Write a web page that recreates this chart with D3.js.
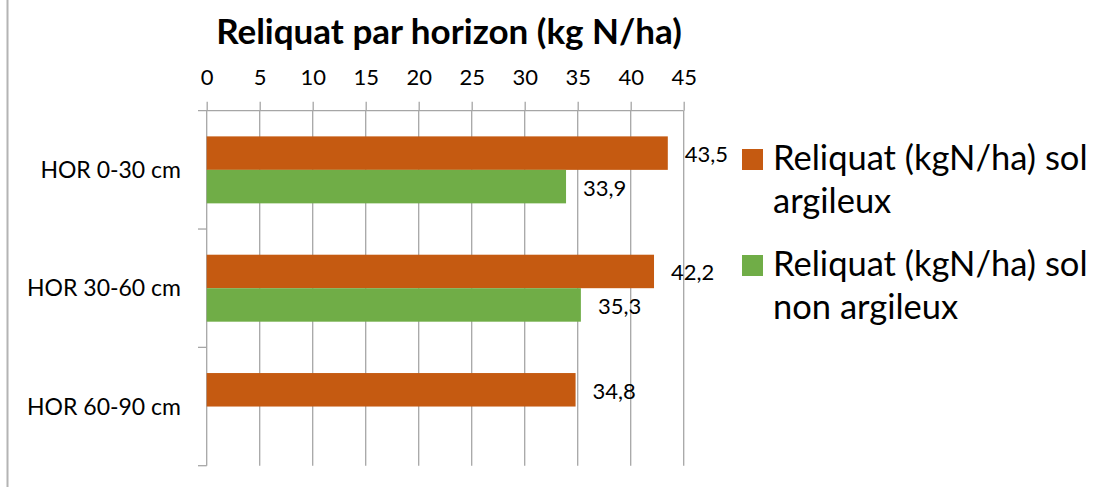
<!DOCTYPE html>
<html>
<head>
<meta charset="utf-8">
<script src="https://cdn.jsdelivr.net/npm/d3@7"></script>
<style>
  html, body { margin: 0; padding: 0; background: #fff; }
  svg { display: block; }
  text { font-family: Lato, "Open Sans", sans-serif; fill: #000; }
</style>
</head>
<body>
<svg id="chart" width="1105" height="487"></svg>
<script>
// ---- data ----
const categories = ["HOR 0-30 cm", "HOR 30-60 cm", "HOR 60-90 cm"];
const seriesNames = ["Reliquat (kgN/ha) sol argileux", "Reliquat (kgN/ha) sol non argileux"];
const legendLines = [["Reliquat (kgN/ha) sol", "argileux"], ["Reliquat (kgN/ha) sol", "non argileux"]];
const argileux = [43.5, 42.2, 34.8];
const nonArgileux = [33.9, 35.3, null];
const tickValues = [0, 5, 10, 15, 20, 25, 30, 35, 40, 45];
const chartTitle = "Reliquat par horizon (kg N/ha)";
const colors = ["#C55A11", "#70AD47"];

const seriesValues = [argileux, nonArgileux];
const fmt = v => String(v).replace(".", ",");

const svg = d3.select("#chart");

// frame line on the left
svg.append("line")
  .attr("x1", 7.5).attr("x2", 7.5).attr("y1", 0).attr("y2", 487)
  .attr("stroke", "#b4b4b4").attr("stroke-width", 2);

const plotTop = 110.7, plotBottom = 465.7;
const x = d3.scaleLinear().domain([0, 45]).range([206.7, 683.7]);
const y = d3.scaleBand().domain(categories).range([plotTop, plotBottom])
  .paddingInner(0.434).paddingOuter(0.217);
const ySub = d3.scaleBand().domain(d3.range(seriesNames.length)).range([0, y.bandwidth()]);

const gridColor = "#a6a6a6";

// gridlines
svg.append("g").selectAll("line")
  .data(tickValues.slice(1))
  .join("line")
  .attr("x1", d => x(d)).attr("x2", d => x(d))
  .attr("y1", plotTop).attr("y2", plotBottom)
  .attr("stroke", gridColor).attr("stroke-width", 1.3);

// top axis
const xAxis = svg.append("g")
  .attr("transform", `translate(0,${plotTop})`)
  .call(d3.axisTop(x).tickValues(tickValues).tickSize(9).tickSizeOuter(0).tickPadding(17));
xAxis.select(".domain").remove();
xAxis.selectAll(".tick line").attr("stroke", gridColor).attr("stroke-width", 1.3);
xAxis.selectAll(".tick text")
  .style("font-family", "Lato, 'Open Sans', sans-serif")
  .style("font-size", "22px").attr("fill", "#000");
svg.append("line")
  .attr("x1", 198).attr("x2", x(45)).attr("y1", plotTop).attr("y2", plotTop)
  .attr("stroke", gridColor).attr("stroke-width", 1.3);

// category axis line and boundary ticks
svg.append("line")
  .attr("x1", x(0)).attr("x2", x(0)).attr("y1", plotTop).attr("y2", plotBottom)
  .attr("stroke", gridColor).attr("stroke-width", 1.3);
const boundaries = categories.map(c => y(c) - y.step() * y.paddingInner() / 2 + y.step());
svg.append("g").selectAll("line")
  .data(boundaries)
  .join("line")
  .attr("x1", 198).attr("x2", x(0))
  .attr("y1", d => d).attr("y2", d => d)
  .attr("stroke", gridColor).attr("stroke-width", 1.3);

// category labels
svg.append("g").selectAll("text")
  .data(categories)
  .join("text")
  .attr("x", 181)
  .attr("y", d => y(d) + y.bandwidth() / 2 + 8)
  .attr("text-anchor", "end")
  .style("font-size", "23px")
  .text(d => d);

// bars
seriesValues.forEach((vals, si) => {
  const g = svg.append("g");
  const data = categories.map((c, i) => ({ c, v: vals[i] })).filter(d => d.v != null);
  g.selectAll("rect")
    .data(data)
    .join("rect")
    .attr("x", x(0))
    .attr("y", d => y(d.c) + ySub(si))
    .attr("width", d => x(d.v) - x(0))
    .attr("height", ySub.bandwidth())
    .attr("fill", colors[si]);
  g.selectAll("text")
    .data(data)
    .join("text")
    .attr("x", d => x(d.v) + 17)
    .attr("y", d => y(d.c) + ySub(si) + ySub.bandwidth() / 2 + 9)
    .style("font-size", "22px")
    .text(d => fmt(d.v));
});

// title
svg.append("text")
  .attr("x", 449).attr("y", 43.5)
  .attr("text-anchor", "middle")
  .style("font-size", "35px").style("font-weight", "bold")
  .text(chartTitle);

// legend
const legendY = [149, 255];
const lg = svg.append("g");
legendLines.forEach((lines, i) => {
  lg.append("rect")
    .attr("x", 742).attr("y", legendY[i])
    .attr("width", 21).attr("height", 21)
    .attr("fill", colors[i]);
  lines.forEach((t, j) => {
    lg.append("text")
      .attr("x", 773).attr("y", legendY[i] + 21 + j * 43)
      .style("font-size", "34.5px")
      .text(t);
  });
});
</script>
</body>
</html>
